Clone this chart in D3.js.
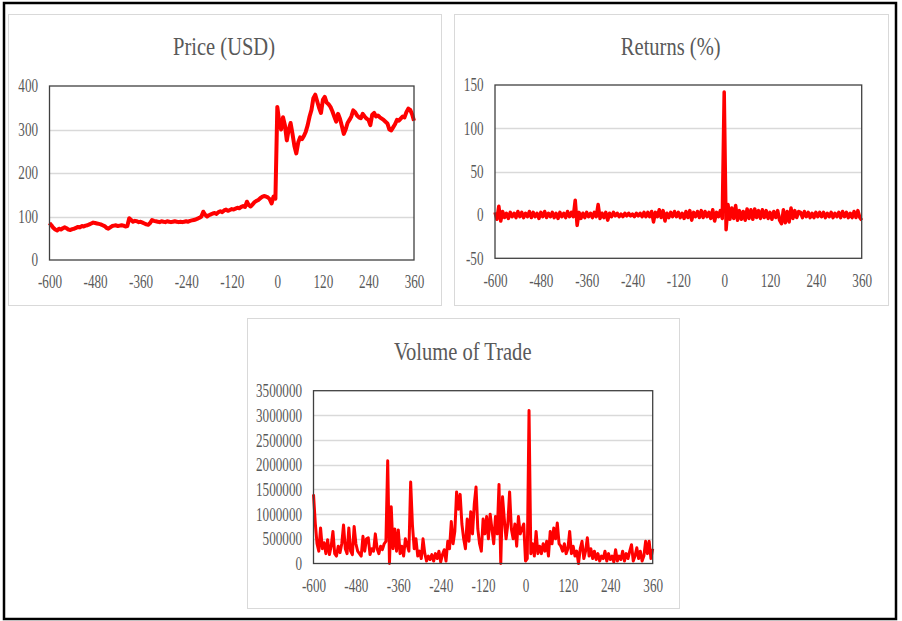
<!DOCTYPE html>
<html><head><meta charset="utf-8">
<script src="https://cdn.jsdelivr.net/npm/d3@7"></script>
<style>html,body{margin:0;padding:0;background:#fff;}svg{display:block;}</style>
</head><body>
<script>
// ---- DATA (event-time days, step 5, from -600 to 360) ----
const days = d3.range(-600, 361, 5);
const xTicks = [-600, -480, -360, -240, -120, 0, 120, 240, 360];

const priceTicks = [0, 100, 200, 300, 400];
const price = [
  85, 80, 74, 70, 68, 72, 70, 73, 75, 73,
  70, 69, 71, 72, 74, 76, 75, 78, 77, 79,
  80, 82, 84, 86, 85, 84, 83, 82, 80, 78,
  74, 72, 75, 78, 79, 80, 78, 79, 80, 79,
  77, 78, 96, 92, 88, 90, 89, 87, 88, 86,
  84, 82, 81, 85, 92, 90, 89, 88, 87, 89,
  88, 87, 89, 88, 87, 88, 89, 88, 87, 88,
  87, 88, 89, 88, 90, 91, 92, 93, 95, 97,
  100, 111, 104, 100, 103, 105, 107, 108, 106, 110,
  112, 110, 114, 116, 113, 115, 117, 116, 118, 120,
  119, 122, 124, 122, 134, 126, 123, 128, 133, 136,
  138, 142, 145, 147, 146, 144, 140, 130, 146, 141,
  352, 318, 300, 328, 310, 275, 300, 315, 290, 262,
  245, 270, 282, 278, 285, 295, 310, 330, 345, 372,
  380, 365, 350, 338, 368, 375, 362, 358, 352, 342,
  330, 318, 336, 325, 308, 290, 300, 315, 322, 330,
  344, 340, 332, 328, 326, 336, 330, 325, 322, 310,
  334, 338, 330, 332, 328, 325, 322, 318, 314, 300,
  298, 305, 312, 322, 320, 325, 330, 328, 340, 348,
  345, 335, 320
];

const returnTicks = [-50, 0, 50, 100, 150];
const returns = [
  3, -5, 10, -7, 4, -3, 2, -4, 3, -2,
  2, -3, 4, -2, 3, -3, 2, -2, 4, -3,
  3, -2, 2, -4, 3, -2, 4, -3, 2, -2,
  3, -3, 2, -4, 3, -2, 2, -3, 4, -2,
  3, -2, 17, -12, 3, -4, 2, -3, 3, -2,
  2, -3, 3, -2, 12, -4, 2, -3, 3, -6,
  2, -2, 3, -1, 2, -2, 1, -2, 2, -1,
  2, -1, 1, -2, 2, -1, 2, -2, 3, -2,
  3, -2, 4, -8, 3, -2, 6, -3, 5, -7,
  2, -3, 3, -2, 4, -2, 3, -3, 2, -4,
  4, -3, 5, -6, 3, -2, 4, -3, 5, -3,
  4, -2, 3, -4, 6, -7, 3, -2, 5, -4,
  142, -17, 12, -5, 8, -4, 11, -6, 5, -5,
  4, -6, 7, -4, 6, -5, 7, -3, 5, -4,
  6, -3, 5, -4, 3, -5, 4, -3, 5, -6,
  -10, 6, -9, 4, -8, 8, -4, 5, -3, 4,
  3, -3, 4, -2, 3, -3, 2, -3, 3, -2,
  3, -2, 3, -3, 2, -2, 3, -3, 2, -2,
  3, -3, 4, -2, 3, -3, 2, -3, 4, -3,
  5, -3, -6
];

const volumeTicks = [0, 500000, 1000000, 1500000, 2000000, 2500000, 3000000, 3500000];
const volume = [
  1400000, 820000, 400000, 250000, 720000, 300000, 420000, 200000, 480000, 180000,
  350000, 650000, 200000, 150000, 350000, 220000, 400000, 780000, 300000, 200000,
  720000, 250000, 180000, 750000, 400000, 250000, 200000, 150000, 550000, 250000,
  500000, 520000, 180000, 300000, 250000, 600000, 300000, 200000, 350000, 280000,
  400000, 450000, 2080000, 0, 1150000, 300000, 700000, 250000, 680000, 200000,
  350000, 150000, 500000, 380000, 250000, 1650000, 780000, 300000, 500000, 150000,
  250000, 100000, 500000, 200000, 50000, 150000, 80000, 180000, 50000, 200000,
  100000, 250000, 30000, 180000, 280000, 50000, 450000, 300000, 850000, 400000,
  650000, 1450000, 1100000, 1400000, 800000, 500000, 300000, 900000, 450000, 1050000,
  600000, 1200000, 1550000, 700000, 400000, 250000, 900000, 600000, 950000, 500000,
  1000000, 700000, 400000, 950000, 600000, 1600000, 0, 1350000, 900000, 500000,
  800000, 1450000, 700000, 500000, 800000, 350000, 950000, 600000, 700000, 800000,
  50000, 100000, 3100000, 200000, 400000, 150000, 650000, 200000, 350000, 200000,
  400000, 250000, 450000, 150000, 650000, 400000, 720000, 500000, 820000, 400000,
  350000, 250000, 400000, 200000, 300000, 650000, 200000, 350000, 150000, 250000,
  0, 300000, 450000, 100000, 250000, 520000, 150000, 300000, 100000, 250000,
  80000, 200000, 50000, 150000, 100000, 250000, 50000, 200000, 80000, 150000,
  30000, 280000, 50000, 150000, 80000, 250000, 50000, 200000, 100000, 250000,
  380000, 50000, 150000, 320000, 100000, 250000, 50000, 150000, 450000, 200000,
  450000, 100000, 300000
];

// ---- DRAWING ----
const W = 902, H = 621;
const svg = d3.select("body").append("svg").attr("width", W).attr("height", H);
svg.append("rect").attr("width", W).attr("height", H).attr("fill", "#fff");
svg.append("rect").attr("x", 4).attr("y", 3).attr("width", 892).attr("height", 616)
  .attr("fill", "none").attr("stroke", "#000").attr("stroke-width", 2.5);

const FONT = "'Liberation Serif','Times New Roman',serif";
const SX = 0.73;      // horizontal condensation of tick labels
const TSX = 0.79;     // horizontal condensation of titles
const fmt = d => String(d);   // plain hyphen-minus, as in the reference

function panel(cfg) {
  const g = svg.append("g");
  g.append("rect").attr("x", cfg.box[0] + 0.5).attr("y", cfg.box[1] + 0.5)
    .attr("width", cfg.box[2] - cfg.box[0]).attr("height", cfg.box[3] - cfg.box[1])
    .attr("fill", "#fff").attr("stroke", "#d9d9d9").attr("stroke-width", 1);

  const x = d3.scaleLinear().domain([-600, 360]).range([cfg.plot[0], cfg.plot[1]]);
  const y = d3.scaleLinear().domain(cfg.yDomain).range([cfg.plot[3], cfg.plot[2]]);

  // gridlines
  g.append("g").selectAll("line").data(cfg.yTicks.filter(t => t !== cfg.yDomain[0] && t !== cfg.yDomain[1]))
    .join("line")
    .attr("x1", cfg.plot[0]).attr("x2", cfg.plot[1])
    .attr("y1", d => Math.round(y(d)) + 0.5).attr("y2", d => Math.round(y(d)) + 0.5)
    .attr("stroke", "#d9d9d9").attr("stroke-width", 1.3);

  // y axis
  const ya = g.append("g").attr("transform", `translate(${cfg.plot[0]},0)`)
    .call(d3.axisLeft(y).tickValues(cfg.yTicks).tickSize(0).tickFormat(fmt));
  ya.select(".domain").remove();
  ya.selectAll("text")
    .attr("x", -11.5 / SX).attr("dy", "0.33em")
    .attr("transform", `scale(${SX},1)`)
    .attr("font-family", FONT).attr("font-size", 18).attr("fill", "#595959")
    .attr("text-anchor", "end");

  // x axis
  const xa = g.append("g").attr("transform", `translate(0,${cfg.plot[3]})`)
    .call(d3.axisBottom(x).tickValues(xTicks).tickSize(0).tickFormat(fmt));
  xa.select(".domain").remove();
  xa.selectAll("text")
    .attr("y", 28.5).attr("dy", 0)
    .attr("transform", `scale(${SX},1)`)
    .attr("font-family", FONT).attr("font-size", 18).attr("fill", "#595959");

  // series
  const line = d3.line().x((d, i) => x(days[i])).y(d => y(d));
  g.append("path").datum(cfg.values).attr("d", line)
    .attr("fill", "none").attr("stroke", "#ff0000").attr("stroke-width", cfg.lw)
    .attr("stroke-linejoin", "round");

  // plot frame
  g.append("rect").attr("x", cfg.plot[0]).attr("y", cfg.plot[2])
    .attr("width", cfg.plot[1] - cfg.plot[0]).attr("height", cfg.plot[3] - cfg.plot[2])
    .attr("fill", "none").attr("stroke", "#404040").attr("stroke-width", 1.3);

  // title
  g.append("text").attr("transform", `translate(${cfg.title[1]},${cfg.title[2]}) scale(${TSX},1)`)
    .attr("text-anchor", "middle").attr("font-family", FONT).attr("font-size", 26)
    .attr("fill", "#595959").text(cfg.title[0]);
}

panel({ box: [8, 14, 441, 305], plot: [49.5, 414, 86, 260], yDomain: [0, 400], yTicks: priceTicks,
        values: price, lw: 4, title: ["Price (USD)", 224, 55] });
panel({ box: [454, 14, 888, 305], plot: [495, 861.7, 85, 258.3], yDomain: [-50, 150], yTicks: returnTicks,
        values: returns, lw: 3.5, title: ["Returns (%)", 670.7, 54.5] });
panel({ box: [247, 318, 679, 608], plot: [313.5, 652.7, 390.7, 563.5], yDomain: [0, 3500000], yTicks: volumeTicks,
        values: volume, lw: 3, title: ["Volume of Trade", 462.7, 360] });
</script>
</body></html>
